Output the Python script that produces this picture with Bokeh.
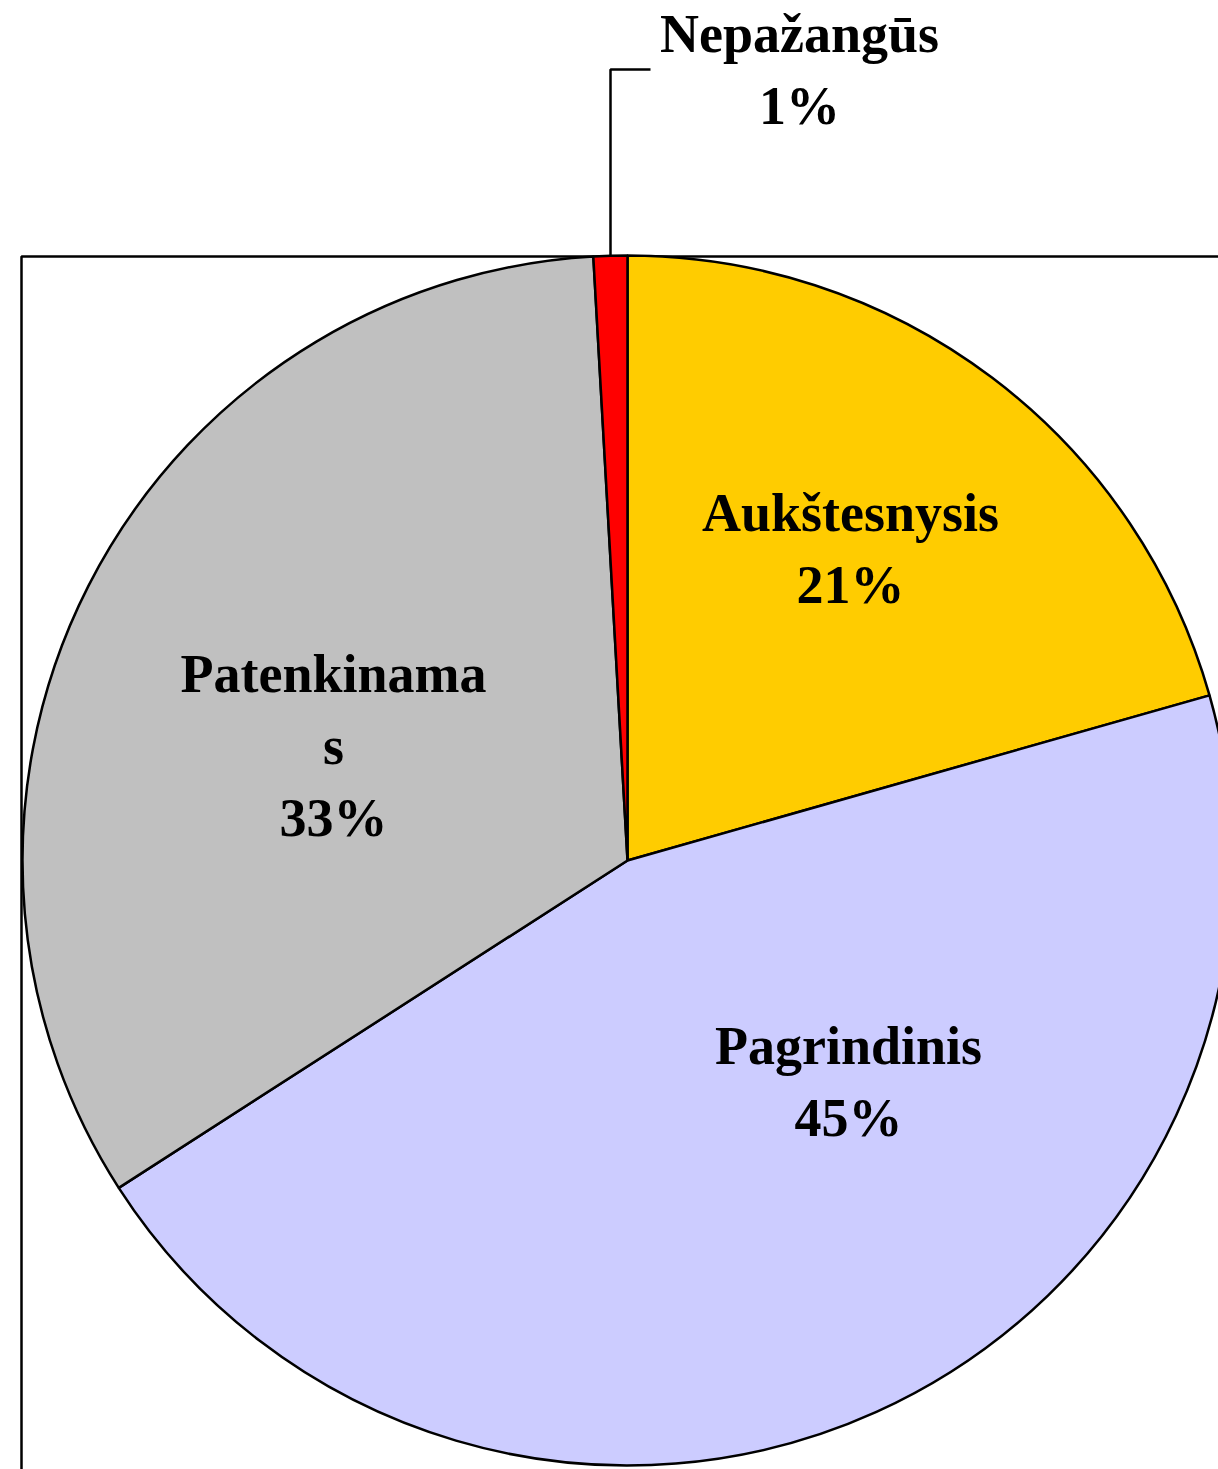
import math
from bokeh.plotting import figure
from bokeh.models import Range1d
from bokeh.core.properties import value
from bokeh.embed import file_html
from bokeh.resources import INLINE

# ---- data ----
categories = ["Aukštesnysis", "Pagrindinis", "Patenkinamas", "Nepažangūs"]
shares = [20.6, 45.3, 33.2, 0.9]
colors = ["#FFCC00", "#CCCCFF", "#C0C0C0", "#FF0000"]
# how each category name is wrapped in its label
name_lines = [["Aukštesnysis"], ["Pagrindinis"], ["Patenkinama", "s"], ["Nepažangūs"]]

# ---- layout (reference pixel coordinates, y downwards) ----
W, H = 1218, 1469
CX, CY, R = 627, 860, 605
label_anchor = [(850, 512), (848, 1045), (333, 673), (799, 33)]  # first line position
LINE_STEP = 72

p = figure(width=W, height=H, output_backend="svg", toolbar_location=None,
           x_range=Range1d(0, W), y_range=Range1d(-H, 0),
           min_border=0, background_fill_color="white", border_fill_color="white")
p.axis.visible = False
p.grid.visible = False
p.outline_line_color = None

# plot-area frame (top and left edges visible)
p.line(x=[21, 21, 1240], y=[-1490, -256, -256], line_color="black", line_width=2.5)

total = sum(shares)
cum = 0.0
for cat, s, col in zip(categories, shares, colors):
    a0 = math.pi / 2 - 2 * math.pi * cum / total
    cum += s
    a1 = math.pi / 2 - 2 * math.pi * cum / total
    p.wedge(x=CX, y=-CY, radius=R, start_angle=a0, end_angle=a1, direction="clock",
            fill_color=col, line_color="black", line_width=2.5)

# leader line for the small slice
p.line(x=[610, 610, 650], y=[-256, -69, -69], line_color="black", line_width=2.5)

for lines, s, (lx, ly) in zip(name_lines, shares, label_anchor):
    pct = f"{round(s / total * 100):d}%"
    all_lines = lines + [pct]
    for i, t in enumerate(all_lines):
        p.text(x=[lx], y=[-(ly + i * LINE_STEP)], text=[t],
               text_font=value("Liberation Serif"), text_font_style="bold",
               text_font_size="54px", text_align="center",
               text_baseline="alphabetic", text_color="black")

open("out.html", "w").write(file_html(p, INLINE))
